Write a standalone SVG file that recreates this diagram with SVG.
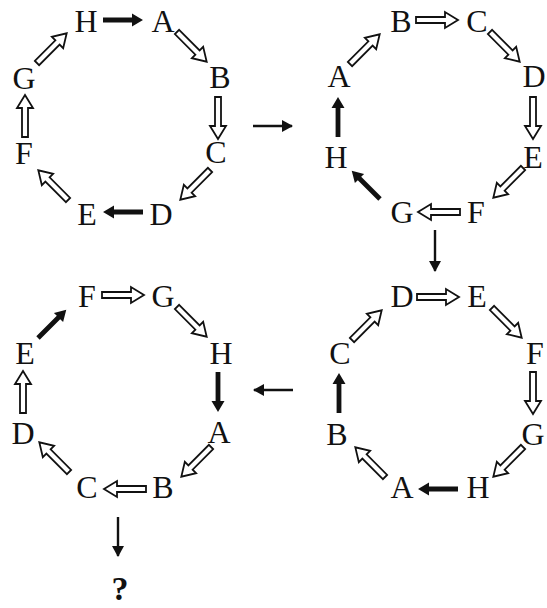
<svg xmlns="http://www.w3.org/2000/svg" xmlns:xlink="http://www.w3.org/1999/xlink" width="547" height="608" viewBox="0 0 547 608">
<style>
.l{font-family:"Liberation Serif","Times New Roman",serif;font-size:32px;fill:#111;text-anchor:middle}
.q{font-family:"Liberation Serif","Times New Roman",serif;font-size:34px;font-weight:bold;fill:#111;text-anchor:middle}
.ho{fill:#fff;stroke:#111;stroke-width:1.8;stroke-linejoin:miter}
.so{fill:#111}
.tl{stroke:#111;stroke-width:2.4}
</style>
<defs>
<path id="h" class="ho" d="M0,-3 H29 V-8 L42,0 L29,8 V3 H0 Z"/>
<path id="s" class="so" d="M0,-2.4 H29 V-6.5 L40,0 L29,6.5 V2.4 H0 Z"/>
<marker id="m" markerWidth="12" markerHeight="12" refX="10" refY="6" orient="auto" markerUnits="userSpaceOnUse"><path d="M0,0 L11,6 L0,12 Z" fill="#111"/></marker>
</defs>
<rect width="547" height="608" fill="#fff"/>

<g id="panel1">
<g id="p1-nodes">
<text class="l" x="86" y="32">H</text>
<text class="l" x="163" y="32">A</text>
<text class="l" x="220" y="88">B</text>
<text class="l" x="216" y="163">C</text>
<text class="l" x="161" y="225">D</text>
<text class="l" x="87" y="225">E</text>
<text class="l" x="24" y="164">F</text>
<text class="l" x="24" y="89">G</text>
</g>
<g id="p1-connectors">
<use xlink:href="#s" transform="translate(103,20)"/>
<use xlink:href="#h" transform="translate(177,32) rotate(45)"/>
<use xlink:href="#h" transform="translate(218,97) rotate(90)"/>
<use xlink:href="#h" transform="translate(210,170) rotate(135)"/>
<use xlink:href="#s" transform="translate(143,212) rotate(180)"/>
<use xlink:href="#h" transform="translate(68,200) rotate(-135)"/>
<use xlink:href="#h" transform="translate(25,137) rotate(-90)"/>
<use xlink:href="#h" transform="translate(37,63) rotate(-45)"/>
</g>
</g>

<g id="panel2">
<g id="p2-nodes">
<text class="l" x="401" y="32">B</text>
<text class="l" x="477" y="32">C</text>
<text class="l" x="534" y="87">D</text>
<text class="l" x="533" y="168">E</text>
<text class="l" x="476" y="223">F</text>
<text class="l" x="402" y="223">G</text>
<text class="l" x="336" y="168">H</text>
<text class="l" x="339" y="87">A</text>
</g>
<g id="p2-connectors">
<use xlink:href="#h" transform="translate(350,64) rotate(-45)"/>
<use xlink:href="#h" transform="translate(416,20)"/>
<use xlink:href="#h" transform="translate(490,32) rotate(45)"/>
<use xlink:href="#h" transform="translate(533,97) rotate(90)"/>
<use xlink:href="#h" transform="translate(523,168) rotate(135)"/>
<use xlink:href="#h" transform="translate(460,212) rotate(180)"/>
<use xlink:href="#s" transform="translate(380,199) rotate(-135)"/>
<use xlink:href="#s" transform="translate(338,137) rotate(-90)"/>
</g>
</g>

<g id="panel4">
<g id="p4-nodes">
<text class="l" x="402" y="307">D</text>
<text class="l" x="477" y="307">E</text>
<text class="l" x="535" y="364">F</text>
<text class="l" x="533" y="445">G</text>
<text class="l" x="478" y="498">H</text>
<text class="l" x="402" y="498">A</text>
<text class="l" x="337" y="445">B</text>
<text class="l" x="340" y="364">C</text>
</g>
<g id="p4-connectors">
<use xlink:href="#h" transform="translate(417,297)"/>
<use xlink:href="#h" transform="translate(492,308) rotate(45)"/>
<use xlink:href="#h" transform="translate(533,372) rotate(90)"/>
<use xlink:href="#h" transform="translate(523,447) rotate(135)"/>
<use xlink:href="#s" transform="translate(458,489) rotate(180)"/>
<use xlink:href="#h" transform="translate(385,477) rotate(-135)"/>
<use xlink:href="#s" transform="translate(339,413) rotate(-90)"/>
<use xlink:href="#h" transform="translate(352,340) rotate(-45)"/>
</g>
</g>

<g id="panel3">
<g id="p3-nodes">
<text class="l" x="87" y="307">F</text>
<text class="l" x="163" y="307">G</text>
<text class="l" x="221" y="364">H</text>
<text class="l" x="219" y="443">A</text>
<text class="l" x="163" y="498">B</text>
<text class="l" x="87" y="498">C</text>
<text class="l" x="23" y="444">D</text>
<text class="l" x="25" y="364">E</text>
</g>
<g id="p3-connectors">
<use xlink:href="#h" transform="translate(102,295)"/>
<use xlink:href="#h" transform="translate(177,307) rotate(45)"/>
<use xlink:href="#s" transform="translate(218,372) rotate(90)"/>
<use xlink:href="#h" transform="translate(211,447) rotate(135)"/>
<use xlink:href="#h" transform="translate(146,489) rotate(180)"/>
<use xlink:href="#h" transform="translate(69,472) rotate(-135)"/>
<use xlink:href="#h" transform="translate(23,413) rotate(-90)"/>
<use xlink:href="#s" transform="translate(38,338) rotate(-45)"/>
</g>
</g>

<g id="question">
<text class="q" x="120" y="600">?</text>
</g>

<g id="connectors">
<line class="tl" x1="253" y1="126" x2="292" y2="126" marker-end="url(#m)"/>
<line class="tl" x1="435" y1="230" x2="435" y2="271" marker-end="url(#m)"/>
<line class="tl" x1="293" y1="390" x2="254" y2="390" marker-end="url(#m)"/>
<line class="tl" x1="118" y1="517" x2="118" y2="556" marker-end="url(#m)"/>
</g>
</svg>
